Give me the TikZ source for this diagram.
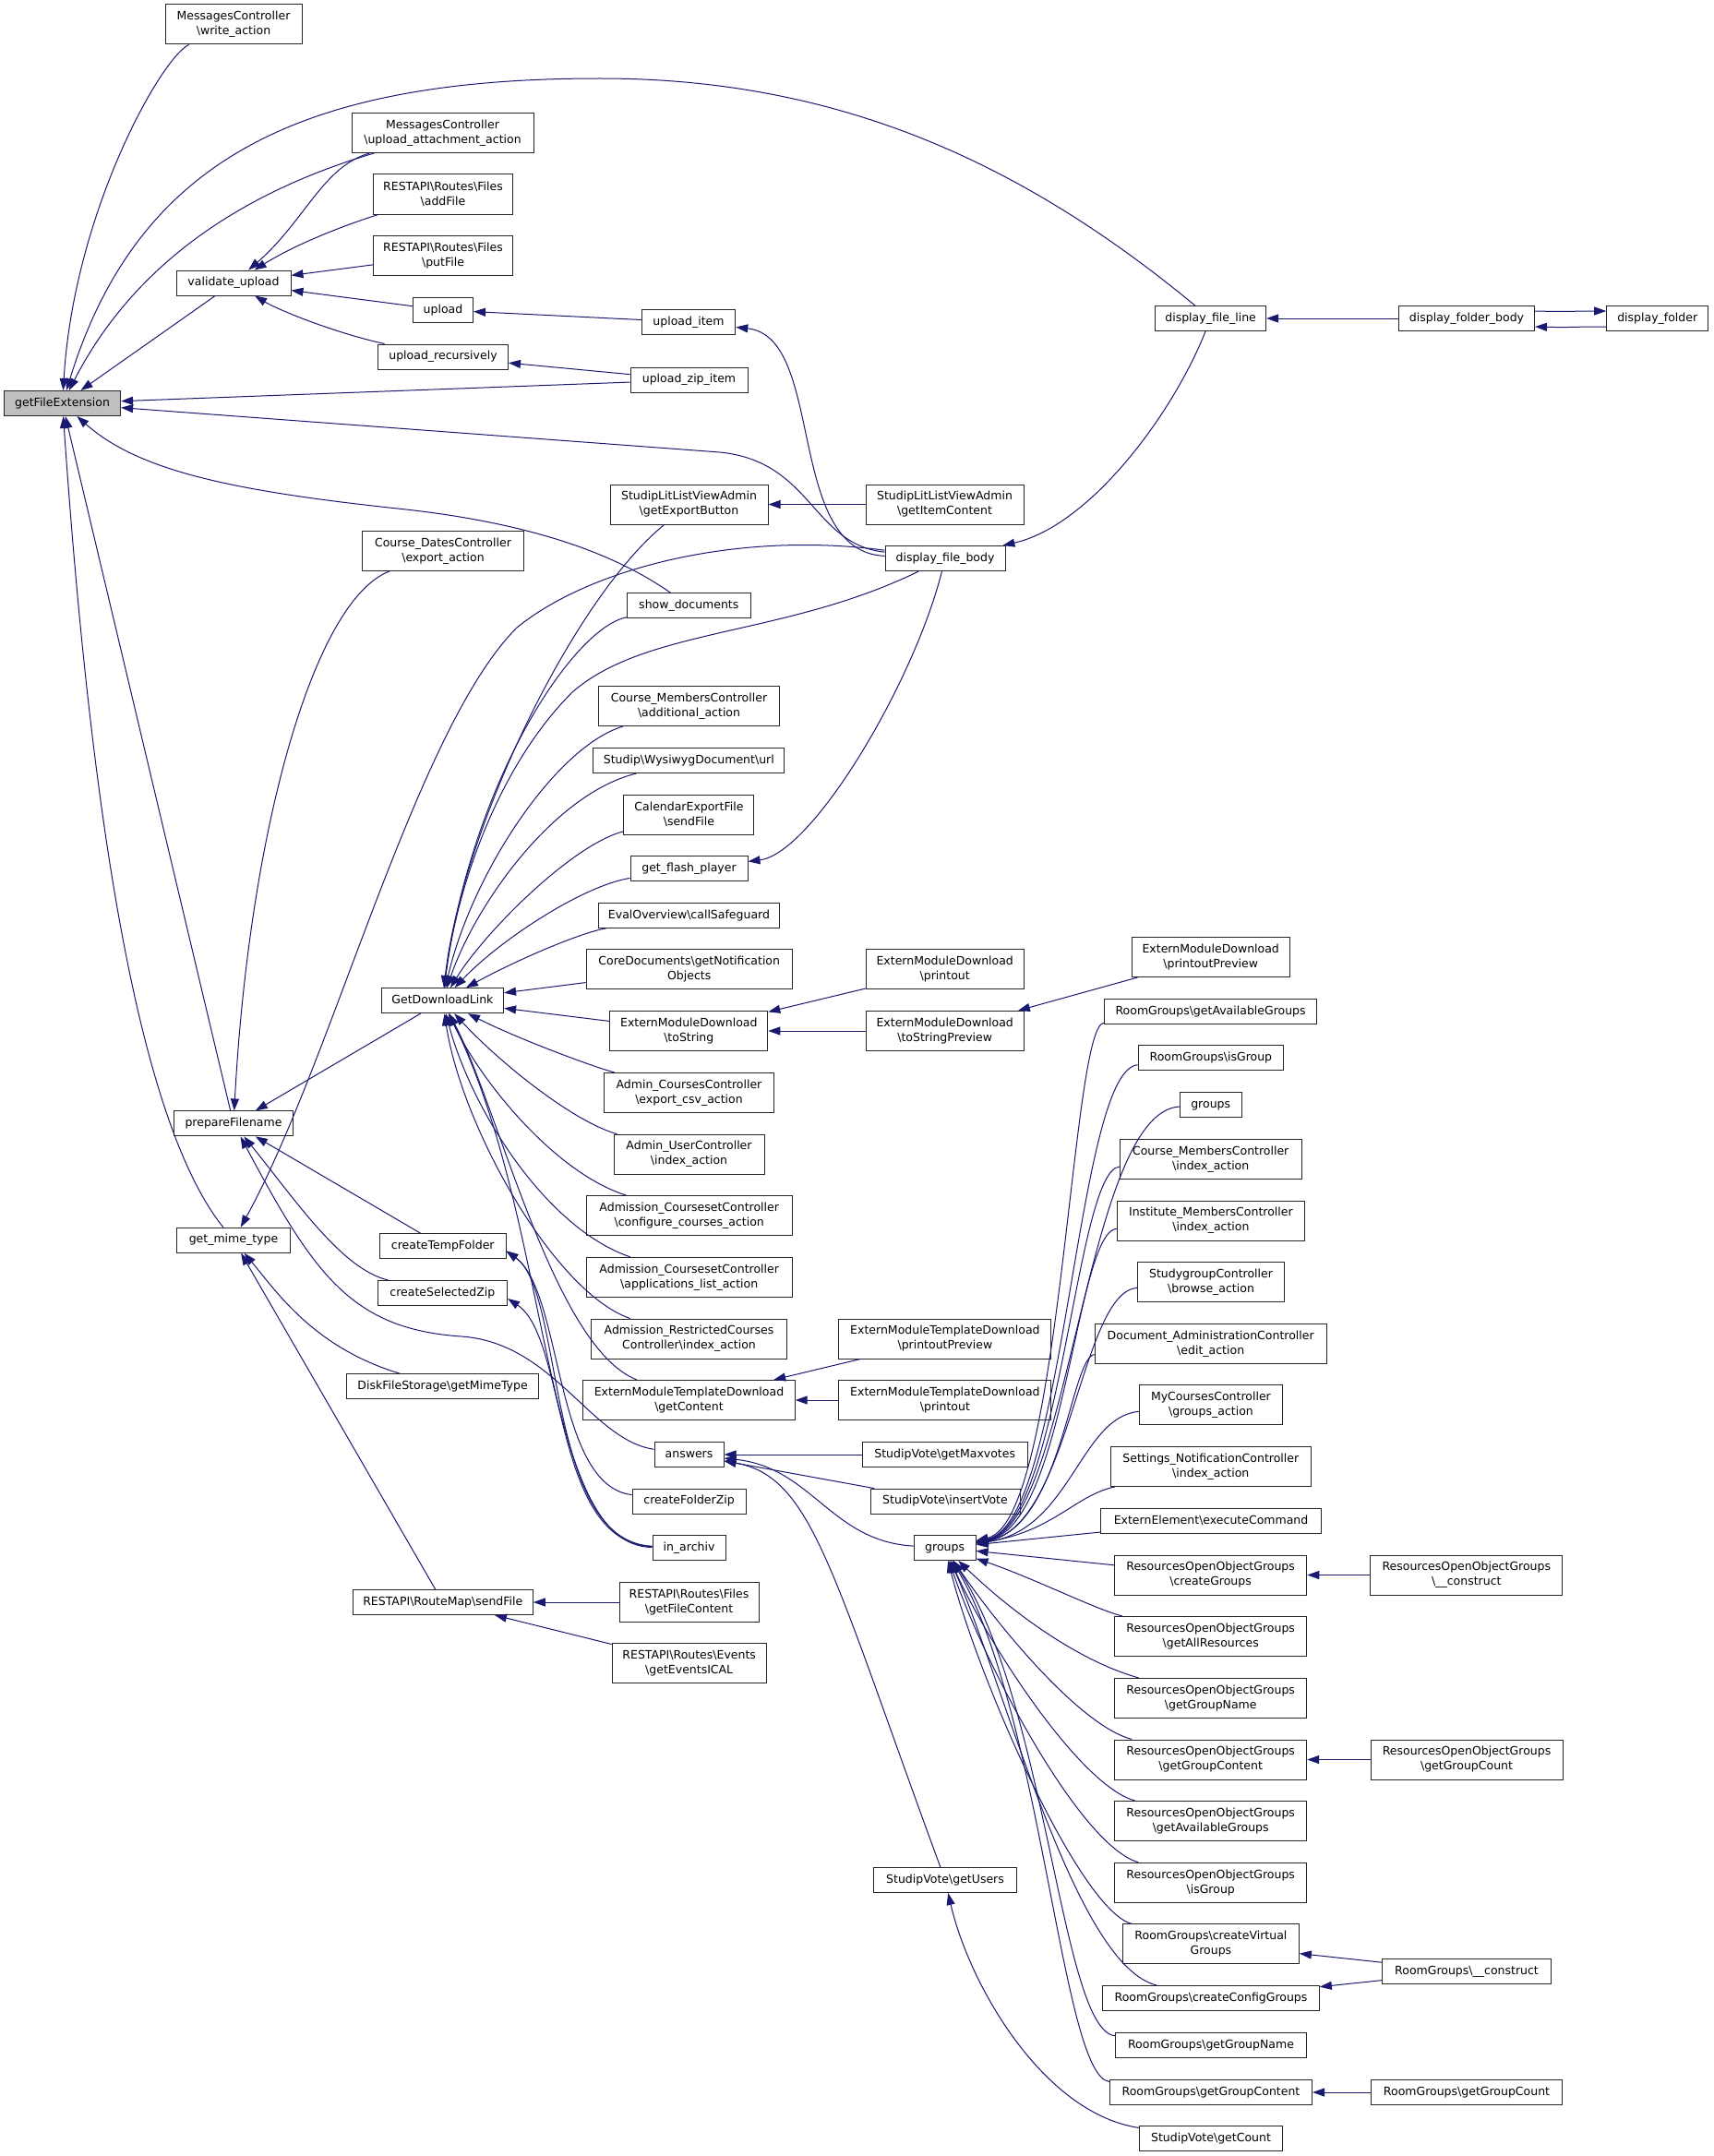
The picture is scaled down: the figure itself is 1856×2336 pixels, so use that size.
\documentclass[tikz,border=0pt]{standalone}
\usepackage{fontspec}
\setmainfont{DejaVu Sans}
\usetikzlibrary{arrows.meta}
\definecolor{eblue}{HTML}{191970}
\newcommand{\bsl}{\textbackslash}
\tikzset{
  boxbase/.style={draw=black!85, line width=1pt, fill=white, font=\fontsize{12.5}{16}\selectfont, inner xsep=0pt, inner ysep=0pt, align=center},
  box1/.style={boxbase, minimum height=27pt, text height=9.5pt, text depth=3pt},
  box2/.style={boxbase, minimum height=43pt},
  edg/.style={draw=eblue, line width=1pt, -{Triangle[length=13pt,width=9pt]}},
}
\begin{document}
\begin{tikzpicture}[x=1pt,y=-1pt]
\useasboundingbox (0,0) rectangle (1856,2336);
% ---------------- nodes ----------------
\node[box1,fill=black!25,minimum width=126pt] (gfe) at (67.6,437) {getFileExtension};
\node[box2,minimum width=148pt] (wa) at (253,26.5) {MessagesController\\\bsl write\_action};
\node[box2,minimum width=197pt] (ua) at (479.5,144) {MessagesController\\\bsl upload\_attachment\_action};
\node[box2,minimum width=150.5pt] (af) at (480,210.5) {RESTAPI\bsl Routes\bsl Files\\\bsl addFile};
\node[box2,minimum width=150.5pt] (pf) at (480,277) {RESTAPI\bsl Routes\bsl Files\\\bsl putFile};
\node[box1,minimum width=124pt] (vu) at (253,306.5) {validate\_upload};
\node[box1,minimum width=65pt] (up) at (480,336) {upload};
\node[box1,minimum width=141pt] (ur) at (480,386.5) {upload\_recursively};
\node[box2,minimum width=175pt] (cd) at (480,597) {Course\_DatesController\\\bsl export\_action};
\node[box1,minimum width=101.5pt] (ui) at (746,349) {upload\_item};
\node[box1,minimum width=127pt] (uz) at (746.5,411.7) {upload\_zip\_item};
\node[box2,minimum width=171pt] (eb) at (746.5,546.5) {StudipLitListViewAdmin\\\bsl getExportButton};
\node[box2,minimum width=171pt] (ic) at (1023.5,546.5) {StudipLitListViewAdmin\\\bsl getItemContent};
\node[box1,minimum width=130pt] (dfb) at (1024,605) {display\_file\_body};
\node[box1,minimum width=120pt] (dfl) at (1311.6,345) {display\_file\_line};
\node[box1,minimum width=147pt] (dfo) at (1589,345) {display\_folder\_body};
\node[box1,minimum width=110pt] (df) at (1795.7,345) {display\_folder};
\node[box1,minimum width=133.4pt] (sd) at (746.3,656) {show\_documents};
\node[box2,minimum width=196pt] (aa) at (746.5,765) {Course\_MembersController\\\bsl additional\_action};
\node[box1,minimum width=207pt] (wu) at (746.3,824) {Studip\bsl WysiwygDocument\bsl url};
\node[box2,minimum width=141pt] (ce) at (746.4,882.7) {CalendarExportFile\\\bsl sendFile};
\node[box1,minimum width=127pt] (fp) at (746.5,941) {get\_flash\_player};
\node[box1,minimum width=196pt] (ev) at (746.5,991.8) {EvalOverview\bsl callSafeguard};
\node[box2,minimum width=223.4pt] (cn) at (746.7,1050.4) {CoreDocuments\bsl getNotification\\Objects};
\node[box2,minimum width=171pt] (emp) at (1023.7,1050.4) {ExternModuleDownload\\\bsl printout};
\node[box2,minimum width=171pt] (emts) at (746.3,1117) {ExternModuleDownload\\\bsl toString};
\node[box2,minimum width=171pt] (emtsp) at (1023.7,1117) {ExternModuleDownload\\\bsl toStringPreview};
\node[box2,minimum width=171pt] (empp) at (1311.7,1037) {ExternModuleDownload\\\bsl printoutPreview};
\node[box2,minimum width=184.5pt] (acc) at (746.5,1184) {Admin\_CoursesController\\\bsl export\_csv\_action};
\node[box2,minimum width=163pt] (auc) at (746.5,1250.7) {Admin\_UserController\\\bsl index\_action};
\node[box2,minimum width=223.4pt] (acs1) at (746.7,1317) {Admission\_CoursesetController\\\bsl configure\_courses\_action};
\node[box2,minimum width=223.4pt] (acs2) at (746.7,1383.9) {Admission\_CoursesetController\\\bsl applications\_list\_action};
\node[box2,minimum width=211.5pt] (arc) at (746.5,1450.5) {Admission\_RestrictedCourses\\Controller\bsl index\_action};
\node[box2,minimum width=230pt] (tpp) at (1023.9,1450.5) {ExternModuleTemplateDownload\\\bsl printoutPreview};
\node[box2,minimum width=229.4pt] (tgc) at (746.5,1517) {ExternModuleTemplateDownload\\\bsl getContent};
\node[box2,minimum width=230pt] (tpo) at (1023.9,1517) {ExternModuleTemplateDownload\\\bsl printout};
\node[box1,minimum width=75pt] (ans) at (746.5,1576) {answers};
\node[box1,minimum width=178.7pt] (gmv) at (1023.7,1576) {StudipVote\bsl getMaxvotes};
\node[box1,minimum width=123pt] (cfz) at (746.6,1626.6) {createFolderZip};
\node[box1,minimum width=162pt] (ivt) at (1024,1626.6) {StudipVote\bsl insertVote};
\node[box1,minimum width=79pt] (ina) at (746.5,1677) {in\_archiv};
\node[box1,minimum width=67pt] (grp) at (1023.6,1677) {groups};
\node[box2,minimum width=151pt] (gfc) at (746.5,1736) {RESTAPI\bsl Routes\bsl Files\\\bsl getFileContent};
\node[box2,minimum width=167pt] (gei) at (746.7,1802.4) {RESTAPI\bsl Routes\bsl Events\\\bsl getEventsICAL};
\node[box1,minimum width=132.4pt] (gdl) at (479.4,1084.2) {GetDownloadLink};
\node[box1,minimum width=129.7pt] (pfn) at (253,1217.4) {prepareFilename};
\node[box1,minimum width=123.3pt] (gmt) at (253,1343.7) {get\_mime\_type};
\node[box1,minimum width=136.4pt] (ctf) at (479.8,1350.4) {createTempFolder};
\node[box1,minimum width=140.4pt] (csz) at (479.4,1401) {createSelectedZip};
\node[box1,minimum width=208pt] (dgm) at (479.6,1502.3) {DiskFileStorage\bsl getMimeType};
\node[box1,minimum width=195pt] (rsf) at (479.8,1736) {RESTAPI\bsl RouteMap\bsl sendFile};
\node[box1,minimum width=155pt] (gus) at (1024,2037) {StudipVote\bsl getUsers};
% column 5
\node[box1,minimum width=230.5pt] (rgag) at (1311.6,1096) {RoomGroups\bsl getAvailableGroups};
\node[box1,minimum width=157.7pt] (rgig) at (1311.9,1146.4) {RoomGroups\bsl isGroup};
\node[box1,minimum width=66.6pt] (grp2) at (1311.7,1197) {groups};
\node[box2,minimum width=196.7pt] (cmi) at (1311.7,1256) {Course\_MembersController\\\bsl index\_action};
\node[box2,minimum width=203pt] (imi) at (1311.9,1322.6) {Institute\_MembersController\\\bsl index\_action};
\node[box2,minimum width=159pt] (sgb) at (1312,1389.2) {StudygroupController\\\bsl browse\_action};
\node[box2,minimum width=250.7pt] (dae) at (1311.7,1455.9) {Document\_AdministrationController\\\bsl edit\_action};
\node[box2,minimum width=154.8pt] (mcg) at (1311.9,1522.4) {MyCoursesController\\\bsl groups\_action};
\node[box2,minimum width=216.4pt] (sni) at (1311.8,1589) {Settings\_NotificationController\\\bsl index\_action};
\node[box1,minimum width=239pt] (eec) at (1312,1648) {ExternElement\bsl executeCommand};
\node[box2,minimum width=208.3pt] (rcg) at (1311.6,1706.5) {ResourcesOpenObjectGroups\\\bsl createGroups};
\node[box2,minimum width=208.3pt] (rcon) at (1588.8,1706.5) {ResourcesOpenObjectGroups\\\bsl \_\_construct};
\node[box2,minimum width=208pt] (rgar) at (1311.7,1773) {ResourcesOpenObjectGroups\\\bsl getAllResources};
\node[box2,minimum width=208pt] (rggn) at (1311.7,1840) {ResourcesOpenObjectGroups\\\bsl getGroupName};
\node[box2,minimum width=208pt] (rggc) at (1311.7,1906.5) {ResourcesOpenObjectGroups\\\bsl getGroupContent};
\node[box2,minimum width=208pt] (rggcount) at (1589,1906.5) {ResourcesOpenObjectGroups\\\bsl getGroupCount};
\node[box2,minimum width=208pt] (rgavg) at (1311.7,1973) {ResourcesOpenObjectGroups\\\bsl getAvailableGroups};
\node[box2,minimum width=208pt] (rgisg) at (1311.7,2039.7) {ResourcesOpenObjectGroups\\\bsl isGroup};
\node[box2,minimum width=191pt] (rcvg) at (1311.9,2106.4) {RoomGroups\bsl createVirtual\\Groups};
\node[box1,minimum width=183.2pt] (rgcon) at (1589,2136) {RoomGroups\bsl \_\_construct};
\node[box1,minimum width=234.7pt] (rccg) at (1312,2165) {RoomGroups\bsl createConfigGroups};
\node[box1,minimum width=207pt] (rgn) at (1312,2216) {RoomGroups\bsl getGroupName};
\node[box1,minimum width=219pt] (rgc) at (1312,2267) {RoomGroups\bsl getGroupContent};
\node[box1,minimum width=207.5pt] (rgcnt) at (1589,2267) {RoomGroups\bsl getGroupCount};
\node[box1,minimum width=154.6pt] (svc) at (1312,2317) {StudipVote\bsl getCount};
% ---------------- edges ----------------
% getFileExtension
\draw[edg] (wa) .. controls (175,62) and (80,230) .. (gfe);
\draw[edg] (dfl) .. controls (1100,170) and (900,85) .. (650,85) .. controls (330,85) and (150,170) .. (gfe);
\draw[edg] (ua) .. controls (243,214) and (138,300) .. (gfe);
\draw[edg] (vu) -- (gfe);
\draw[edg] (uz) -- (gfe);
\draw[edg] (dfb) .. controls (880,590) and (880,500) .. (780,490) -- (gfe);
\draw[edg] (sd) .. controls (680,610) and (600,570) .. (440,552) .. controls (250,532) and (150,510) .. (gfe);
\draw[edg] (pfn) -- (gfe);
\draw[edg] (gmt) .. controls (158,1225) and (102,935) .. (gfe);
% validate_upload
\draw[edg] (ua) .. controls (350,180) and (330,240) .. (vu);
\draw[edg] (af) .. controls (370,245) and (320,265) .. (vu);
\draw[edg] (pf) -- (vu);
\draw[edg] (up) -- (vu);
\draw[edg] (ur) .. controls (360,360) and (300,335) .. (vu);
\draw[edg] (ui) -- (up);
\draw[edg] (uz) -- (ur);
\draw[edg] (dfb) .. controls (850,598) and (895,365) .. (ui);
% display chain
\draw[edg] (dfo) -- (dfl);
\draw[edg] ([yshift=8pt]dfo.east) .. controls +(40,1) and +(-40,0) .. ([yshift=8pt]df.west);
\draw[edg] ([yshift=-9pt]df.west) .. controls +(-40,0) and +(40,1) .. ([yshift=-9pt]dfo.east);
\draw[edg] (dfl) .. controls (1270,450) and (1180,570) .. (dfb);
\draw[edg] (ic) -- (eb);
% GetDownloadLink
\draw[edg] (eb) .. controls (620,650) and (500,900) .. (gdl);
\draw[edg] (sd) .. controls (620,680) and (510,850) .. (gdl);
\draw[edg] (dfb) .. controls (850,690) and (700,680) .. (620,750) .. controls (540,830) and (495,960) .. (gdl);
\draw[edg] (aa) .. controls (600,810) and (510,950) .. (gdl);
\draw[edg] (wu) .. controls (600,860) and (515,980) .. (gdl);
\draw[edg] (ce) .. controls (620,915) and (525,1010) .. (gdl);
\draw[edg] (fp) .. controls (630,960) and (540,1020) .. (gdl);
\draw[edg] (ev) .. controls (630,1010) and (560,1040) .. (gdl);
\draw[edg] (cn) -- (gdl);
\draw[edg] (emts) -- (gdl);
\draw[edg] (acc) .. controls (640,1155) and (560,1125) .. (gdl);
\draw[edg] (auc) .. controls (620,1215) and (540,1150) .. (gdl);
\draw[edg] (acs1) .. controls (600,1270) and (520,1170) .. (gdl);
\draw[edg] (acs2) .. controls (590,1330) and (510,1200) .. (gdl);
\draw[edg] (arc) .. controls (600,1400) and (500,1220) .. (gdl);
\draw[edg] (tgc) .. controls (600,1460) and (540,1200) .. (gdl);
\draw[edg] (ina) .. controls (585,1675) and (600,1330) .. (gdl);
% prepareFilename
\draw[edg] (cd) .. controls (340,650) and (270,900) .. (pfn);
\draw[edg] (gdl) -- (pfn);
\draw[edg] (ctf) -- (pfn);
\draw[edg] (csz) .. controls (370,1375) and (320,1300) .. (pfn);
\draw[edg] (ans) .. controls (640,1560) and (600,1455) .. (500,1448) .. controls (380,1440) and (340,1380) .. (pfn);
% get_mime_type
\draw[edg] (dfb) .. controls (800,575) and (640,615) .. (560,680) .. controls (450,790) and (360,1150) .. (gmt);
\draw[edg] (dgm) .. controls (340,1460) and (300,1400) .. (gmt);
\draw[edg] (rsf) -- (gmt);
% createTempFolder / createSelectedZip
\draw[edg] (cfz) .. controls (600,1610) and (610,1400) .. ([yshift=-5pt]ctf.east);
\draw[edg] (ina) .. controls (590,1670) and (612,1400) .. ([yshift=-5pt]ctf.east);
\draw[edg] (ina) .. controls (598,1672) and (615,1450) .. ([yshift=-6pt]csz.east);
% sendFile
\draw[edg] (gfc) -- (rsf);
\draw[edg] (gei) -- (rsf);
% ExternModule
\draw[edg] (emp) -- (emts);
\draw[edg] (emtsp) -- (emts);
\draw[edg] (empp) -- (emtsp);
\draw[edg] (tpp) -- (tgc);
\draw[edg] (tpo) -- (tgc);
% get_flash_player
\draw[edg] (dfb) .. controls (990,740) and (880,925) .. (fp);
% answers
\draw[edg] (gmv) -- (ans);
\draw[edg] (ivt) -- (ans);
\draw[edg] (grp) .. controls (900,1670) and (880,1590) .. (ans);
\draw[edg] (gus) .. controls (900,1700) and (880,1600) .. (ans);
\draw[edg] (svc) .. controls (1130,2290) and (1050,2150) .. (gus);
% groups
\draw[edg] (rgag) .. controls (1160,1112) and (1150,1648) .. (grp);
\draw[edg] (rgig) .. controls (1165,1160) and (1155,1650) .. (grp);
\draw[edg] (grp2) .. controls (1175,1205) and (1160,1652) .. (grp);
\draw[edg] (cmi) .. controls (1165,1268) and (1150,1652) .. (grp);
\draw[edg] (imi) .. controls (1165,1335) and (1155,1654) .. (grp);
\draw[edg] (sgb) .. controls (1170,1400) and (1160,1655) .. (grp);
\draw[edg] (dae) .. controls (1160,1470) and (1150,1656) .. (grp);
\draw[edg] (mcg) .. controls (1170,1535) and (1160,1658) .. (grp);
\draw[edg] (sni) .. controls (1165,1620) and (1140,1660) .. (grp);
\draw[edg] (eec) -- (grp);
\draw[edg] (rcg) -- (grp);
\draw[edg] (rgar) .. controls (1190,1745) and (1120,1710) .. (grp);
\draw[edg] (rggn) .. controls (1170,1800) and (1100,1750) .. (grp);
\draw[edg] (rggc) .. controls (1170,1870) and (1080,1760) .. (grp);
\draw[edg] (rgavg) .. controls (1170,1935) and (1070,1780) .. (grp);
\draw[edg] (rgisg) .. controls (1170,2000) and (1065,1800) .. (grp);
\draw[edg] (rcvg) .. controls (1170,2070) and (1060,1820) .. (grp);
\draw[edg] (rccg) .. controls (1165,2130) and (1090,1830) .. (grp);
\draw[edg] (rgn) .. controls (1150,2200) and (1135,1850) .. (grp);
\draw[edg] (rgc) .. controls (1150,2250) and (1130,1860) .. (grp);
% second level on the right
\draw[edg] (rcon) -- (rcg);
\draw[edg] (rggcount) -- (rggc);
\draw[edg] (rgcon) -- (rcvg);
\draw[edg] (rgcon) -- (rccg);
\draw[edg] (rgcnt) -- (rgc);
\end{tikzpicture}
\end{document}
